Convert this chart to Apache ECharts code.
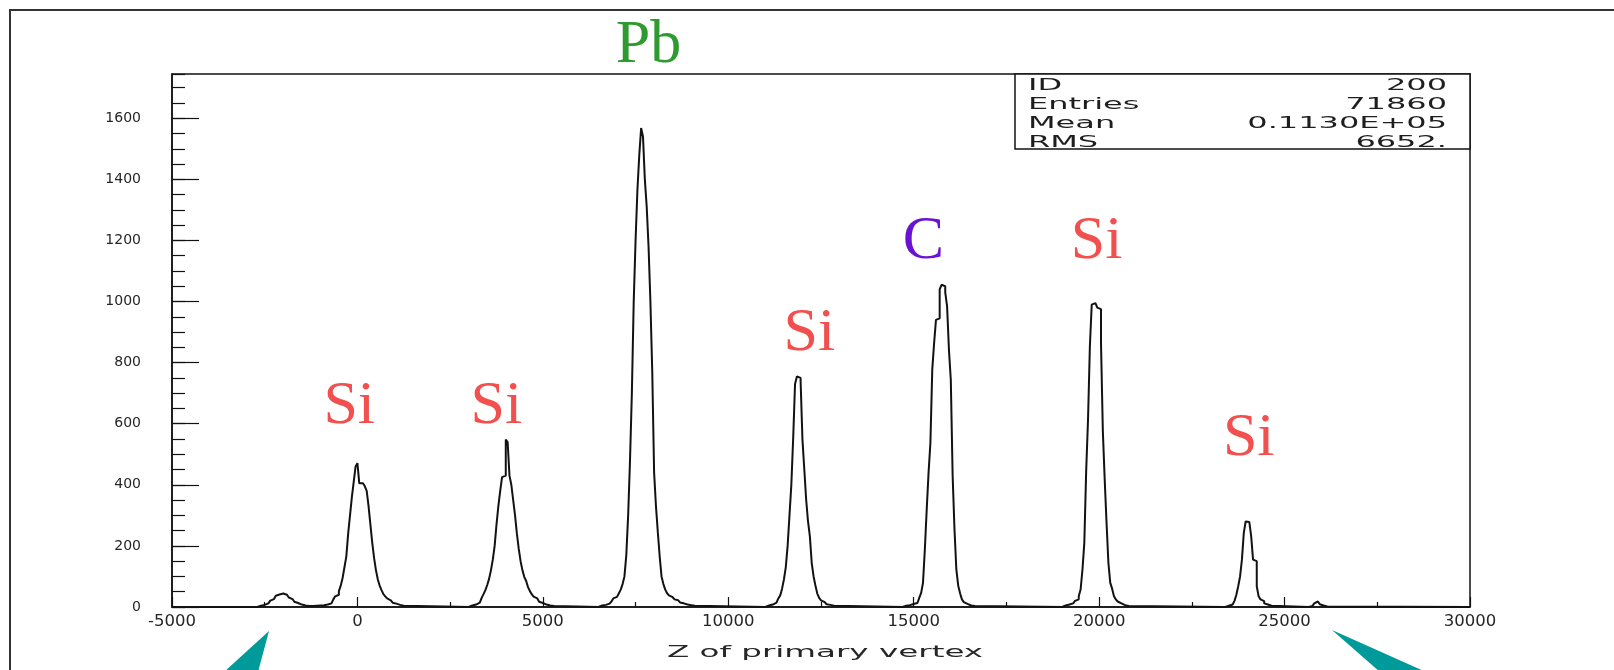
<!DOCTYPE html>
<html>
<head>
<meta charset="utf-8">
<script src="https://cdn.jsdelivr.net/npm/echarts@6/dist/echarts.min.js"></script>
<style>
  html, body { margin: 0; padding: 0; background: #ffffff; }
  #chart { width: 1614px; height: 670px; }
</style>
</head>
<body>
<div id="chart"></div>
<script>
// Histogram of the primary vertex Z position (bin width 50), stored as runs of
// consecutive bins; bins outside these runs are empty.
const BIN = 50;

const bumpMinus2000 = [3, 4, 5, 7, 9, 12, 16, 21, 26, 32, 37, 41, 44, 44, 43, 40, 36, 31, 26, 21, 17, 13, 10, 8, 6, 5, 4, 3];
const si0 = [2, 3, 3, 4, 4, 5, 5, 6, 7, 8, 10, 12, 15, 25, 35, 40, 52, 70, 95, 130, 165, 240, 300, 360, 410, 460, 471, 405, 405, 400, 395, 380, 330, 270, 210, 160, 120, 90, 70, 55, 42, 35, 28, 22, 18, 14, 11, 9, 7, 5, 4, 3];
const si4000 = [4, 5, 6, 8, 10, 14, 20, 30, 42, 55, 72, 92, 120, 155, 200, 270, 330, 380, 425, 430, 548, 540, 430, 400, 350, 300, 240, 190, 150, 120, 98, 85, 65, 52, 42, 34, 28, 22, 17, 13, 10, 8, 6, 5, 4, 3];
const pb7700 = [4, 5, 6, 7, 9, 11, 14, 18, 28, 33, 38, 45, 57, 75, 100, 170, 300, 480, 700, 1000, 1200, 1366, 1480, 1568, 1540, 1400, 1311, 1180, 1000, 770, 440, 330, 245, 166, 100, 75, 57, 45, 38, 32, 28, 25, 22, 18, 15, 12, 10, 8, 7, 6, 5, 4, 3];
const si11900 = [4, 5, 6, 8, 10, 14, 20, 28, 38, 60, 90, 130, 200, 300, 400, 553, 730, 755, 750, 740, 548, 450, 351, 280, 231, 144, 100, 70, 44, 30, 22, 16, 12, 9, 7, 5, 4];
const c15800 = [3, 4, 5, 6, 8, 10, 12, 13, 15, 30, 46, 79, 188, 318, 439, 537, 777, 864, 940, 945, 1040, 1055, 1050, 1030, 984, 842, 744, 428, 253, 122, 70, 45, 25, 16, 10, 7, 5, 4, 3];
const si19900 = [4, 5, 6, 8, 10, 12, 15, 20, 25, 35, 57, 122, 209, 444, 613, 853, 990, 995, 990, 980, 975, 864, 575, 417, 275, 144, 79, 60, 35, 25, 18, 12, 9, 6, 4, 3];
const si24000 = [3, 4, 5, 8, 13, 20, 40, 68, 100, 155, 242, 280, 278, 275, 231, 155, 150, 68, 35, 25, 19, 12, 8, 5, 4, 3];
const bump25900 = [2, 3, 6, 12, 18, 16, 9, 5, 3, 2];

// Lower edge (Z) of the first bin of each run
const runStarts = [-2700, -1300, 3000, 6500, 11000, 14700, 19000, 23400, 25650];
const runCounts = [bumpMinus2000, si0, si4000, pb7700, si11900, c15800, si19900, si24000, bump25900];

// Axis settings
const zMin = -5000, zMax = 30000, zStep = 5000;
const countMax = 1745, countStep = 200, countMinorStep = 50;

// Statistics box
const statNames = ['ID', 'Entries', 'Mean', 'RMS'];
const statValues = ['200', '71860', '0.1130E+05', '6652.'];

// Target material labels, anchored in data coordinates
const labelText = ['Si', 'Si', 'Pb', 'Si', 'C', 'Si', 'Si'];
const labelZ = [-221, 3745, 7846, 12189, 15265, 19933, 24034];
const labelCount = [655, 655, 1838, 895, 1196, 1196, 550];
const labelColor = ['#f24f4f', '#f24f4f', '#2f9a2f', '#f24f4f', '#6a12d2', '#f24f4f', '#f24f4f'];

// Step outline points: each point is a bin's lower edge with its count
const histPoints = [[zMin, 0]];
runStarts.forEach(function (start, r) {
  const counts = runCounts[r];
  counts.forEach(function (c, i) { histPoints.push([start + i * BIN, c]); });
  histPoints.push([start + counts.length * BIN, 0]);
});
histPoints.push([zMax, 0]);

const ink = '#121212';
const plainNumber = function (v) { return String(v); };
const chart = echarts.init(document.getElementById('chart'), null, { renderer: 'canvas' });

chart.setOption({
  animation: false,
  backgroundColor: '#ffffff',
  grid: {
    left: 172, right: 144, top: 74, bottom: 63,
    show: true, borderColor: ink, borderWidth: 1.5, backgroundColor: 'transparent'
  },
  xAxis: {
    type: 'value', min: zMin, max: zMax, interval: zStep,
    axisLine: { show: true, onZero: false, lineStyle: { color: ink, width: 1.5 } },
    axisTick: { show: true, inside: true, length: 10, lineStyle: { color: ink, width: 1.2 } },
    minorTick: { show: true, splitNumber: 2, length: 5, lineStyle: { color: ink, width: 1.2 } },
    splitLine: { show: false },
    minorSplitLine: { show: false },
    axisLabel: { fontFamily: 'DejaVu Sans', fontSize: 16.5, color: '#262626', margin: 6, formatter: plainNumber }
  },
  yAxis: [
    {
      type: 'value', min: 0, max: countMax, interval: countStep, position: 'left',
      axisLine: { show: true, onZero: false, lineStyle: { color: ink, width: 1.5 } },
      axisTick: { show: true, inside: true, length: 27, lineStyle: { color: ink, width: 1.2 } },
      splitLine: { show: false },
      axisLabel: { fontFamily: 'DejaVu Sans', fontSize: 14, color: '#262626', margin: 31, showMaxLabel: false, formatter: plainNumber }
    },
    {
      type: 'value', min: 0, max: countMax, interval: countMinorStep, position: 'left',
      axisLine: { show: false, onZero: false },
      axisTick: { show: true, inside: true, length: 13, lineStyle: { color: ink, width: 1.2 } },
      splitLine: { show: false },
      axisLabel: { show: false }
    }
  ],
  series: [{
    type: 'line',
    name: 'Z of primary vertex',
    xAxisIndex: 0, yAxisIndex: 0,
    data: histPoints,
    step: 'end',
    showSymbol: false, symbol: 'none',
    lineStyle: { color: ink, width: 2 },
    clip: true,
    silent: true
  }]
});

// Annotations: frame, statistics box, axis title, material labels, pointers
const graphics = [];

graphics.push({
  type: 'polyline', silent: true,
  shape: { points: [[10, 672], [10, 10], [1616, 10]] },
  style: { stroke: '#333333', lineWidth: 2, fill: null }
});

const boxLeft = 1015, boxTop = 74, boxRight = 1470, boxBottom = 149;
graphics.push({
  type: 'rect', silent: true, z: 10,
  shape: { x: boxLeft, y: boxTop, width: boxRight - boxLeft, height: boxBottom - boxTop },
  style: { fill: '#ffffff', stroke: ink, lineWidth: 1.5 }
});
const rowY = [86, 105, 124, 143];
statNames.forEach(function (name, i) {
  graphics.push({
    type: 'text', silent: true, z: 11, x: 1028, y: rowY[i], scaleX: 2.0,
    style: { text: name, fill: '#1e1e1e', font: '16px "DejaVu Sans"', textAlign: 'left', textVerticalAlign: 'middle' }
  });
  graphics.push({
    type: 'text', silent: true, z: 11, x: 1447, y: rowY[i], scaleX: 2.0,
    style: { text: statValues[i], fill: '#1e1e1e', font: '16px "DejaVu Sans"', textAlign: 'right', textVerticalAlign: 'middle' }
  });
});

graphics.push({
  type: 'text', silent: true, x: 825, y: 653, scaleX: 2.17,
  style: { text: 'Z of primary vertex', fill: '#262626', font: '15px "DejaVu Sans"', textAlign: 'center', textVerticalAlign: 'middle' }
});

labelText.forEach(function (t, i) {
  const p = chart.convertToPixel({ xAxisIndex: 0, yAxisIndex: 0 }, [labelZ[i], labelCount[i]]);
  graphics.push({
    type: 'text', silent: true, z: 12, x: p[0], y: p[1],
    style: { text: t, fill: labelColor[i], font: '62px "Liberation Serif"', textAlign: 'center', textVerticalAlign: 'middle' }
  });
});

graphics.push({
  type: 'polygon', silent: true,
  shape: { points: [[269, 631], [224, 672], [258, 672]] },
  style: { fill: '#009a9a' }
});
graphics.push({
  type: 'polygon', silent: true,
  shape: { points: [[1332, 630], [1380, 672], [1426, 672]] },
  style: { fill: '#009a9a' }
});

chart.setOption({ graphic: graphics });
</script>
</body>
</html>
